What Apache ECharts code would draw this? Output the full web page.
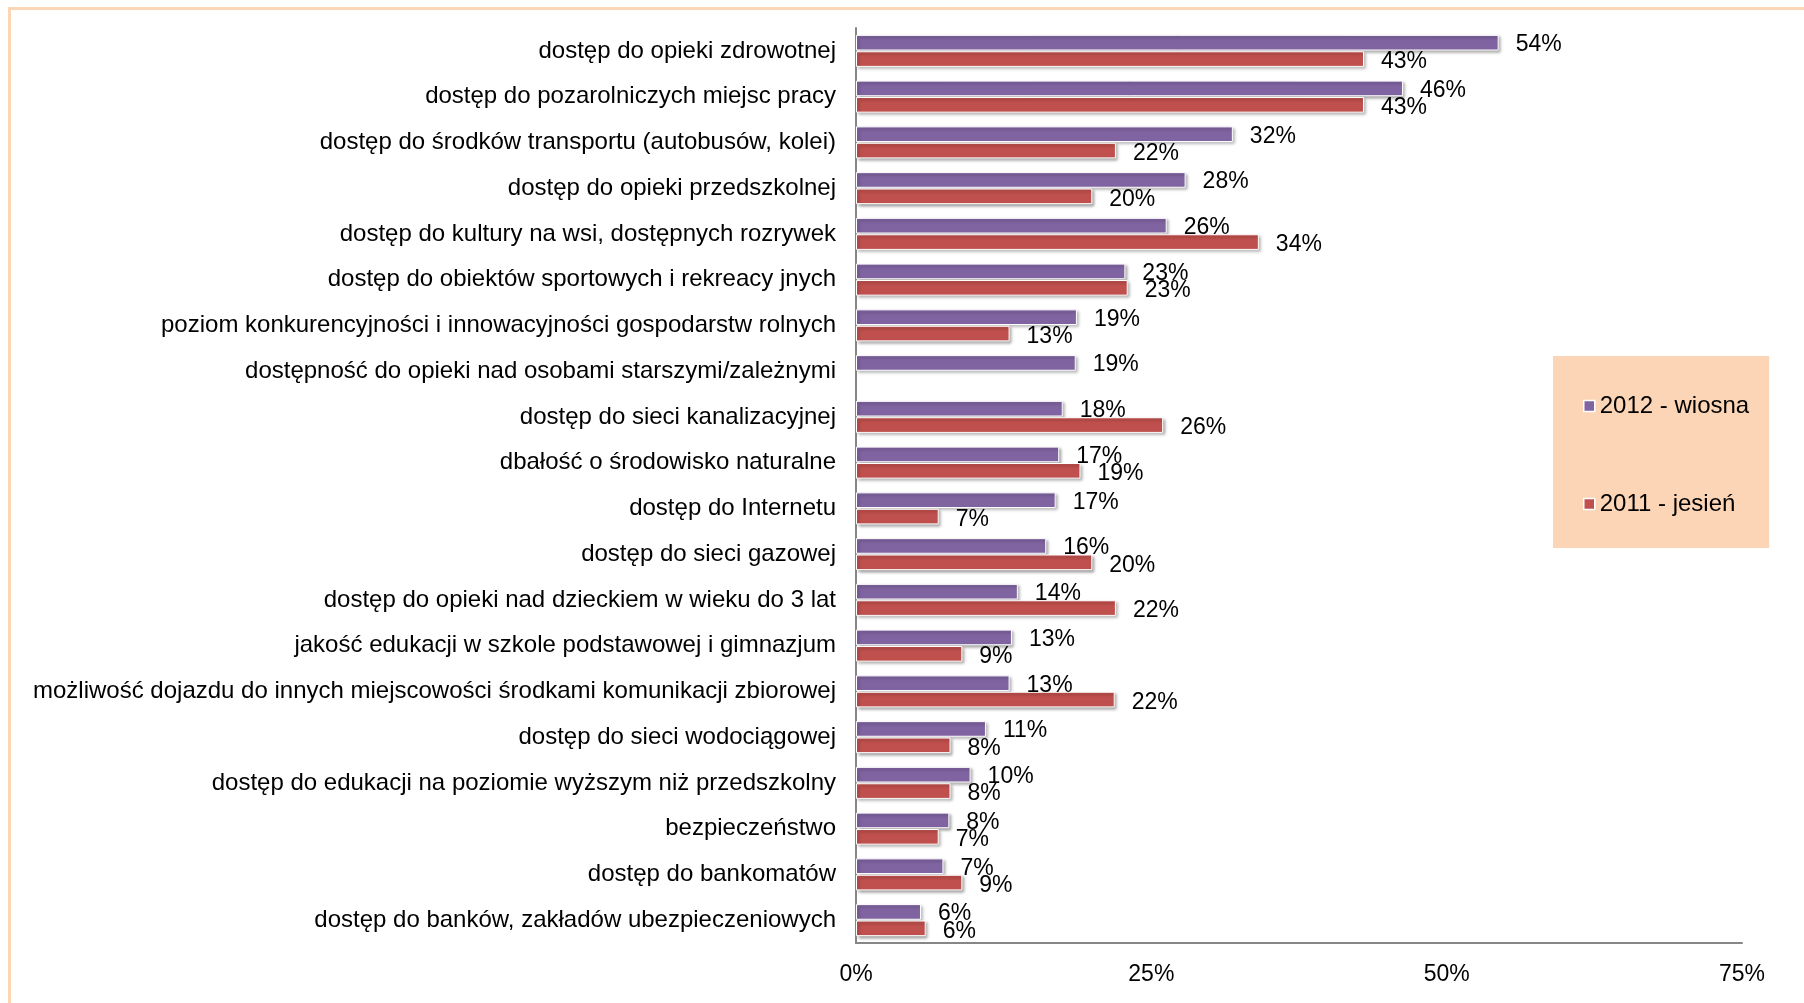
<!DOCTYPE html>
<html>
<head>
<meta charset="utf-8">
<script src="https://cdn.jsdelivr.net/npm/echarts@6/dist/echarts.min.js"></script>
<style>
  html, body { margin: 0; padding: 0; background: #fff; }
  #frame {
    position: absolute; left: 8px; top: 7px; width: 1900px; height: 1100px;
    border-left: 3px solid #FCD5B4; border-top: 3px solid #FCD5B4;
  }
  #view { position: absolute; left: 0; top: 0; width: 1804px; height: 1003px; }
</style>
</head>
<body>
<div id="frame"></div>
<div id="view"></div>
<script>
var categories = [
    "dostęp do opieki zdrowotnej",
    "dostęp do pozarolniczych miejsc pracy",
    "dostęp do środków transportu (autobusów, kolei)",
    "dostęp do opieki przedszkolnej",
    "dostęp do kultury na wsi, dostępnych rozrywek",
    "dostęp do obiektów sportowych i rekreacy jnych",
    "poziom konkurencyjności i innowacyjności gospodarstw rolnych",
    "dostępność do opieki nad osobami starszymi/zależnymi",
    "dostęp do sieci kanalizacyjnej",
    "dbałość o środowisko naturalne",
    "dostęp do Internetu",
    "dostęp do sieci gazowej",
    "dostęp do opieki nad dzieckiem w wieku do 3 lat",
    "jakość edukacji w szkole podstawowej i gimnazjum",
    "możliwość dojazdu do innych miejscowości środkami komunikacji zbiorowej",
    "dostęp do sieci wodociągowej",
    "dostęp do edukacji na poziomie wyższym niż przedszkolny",
    "bezpieczeństwo",
    "dostęp do bankomatów",
    "dostęp do banków, zakładów ubezpieczeniowych"
];
var spring2012 = [54.4, 46.3, 31.9, 27.9, 26.3, 22.8, 18.7, 18.6, 17.5, 17.2, 16.9, 16.1, 13.7, 13.2, 13.0, 11.0, 9.7, 7.9, 7.4, 5.5];
var autumn2011 = [43.0, 43.0, 22.0, 20.0, 34.1, 23.0, 13.0, null, 26.0, 19.0, 7.0, 20.0, 22.0, 9.0, 21.9, 8.0, 8.0, 7.0, 9.0, 5.9];
var xTicks = [0, 25, 50, 75];

var font = "'Liberation Sans', Arial, sans-serif";

function barLabel(offsetY) {
    return {
        show: true,
        position: 'right',
        distance: 17,
        offset: [0, offsetY],
        color: '#000',
        fontSize: 23,
        fontFamily: font,
        formatter: function (p) { return Math.round(p.value) + '%'; }
    };
}

var option = {
    animation: false,
    textStyle: { fontFamily: font },
    legend: {
        data: ["2012 - wiosna", "2011 - jesień"],
        orient: 'vertical',
        left: 1553,
        top: 356,
        backgroundColor: '#FBD5B5',
        padding: [38, 20, 32, 30],
        itemGap: 74,
        itemWidth: 11,
        itemHeight: 11,
        icon: 'rect',
        itemStyle: { borderColor: '#fff', borderWidth: 1.5, shadowBlur: 0, shadowOffsetX: 0, shadowOffsetY: 0 },
        textStyle: { fontSize: 24, color: '#000', fontFamily: font }
    },
    grid: {
        left: 856,
        right: 62,
        top: 28,
        bottom: 60
    },
    xAxis: {
        type: 'value',
        min: xTicks[0],
        max: xTicks[xTicks.length - 1],
        interval: 25,
        axisLine: { show: true, lineStyle: { color: '#868686', width: 2 } },
        axisTick: { show: false },
        splitLine: { show: false },
        axisLabel: {
            margin: 20,
            color: '#000',
            fontSize: 23,
            fontFamily: font,
            formatter: '{value}%'
        }
    },
    yAxis: {
        type: 'category',
        inverse: true,
        data: categories,
        axisLine: { show: true, lineStyle: { color: '#868686', width: 2 } },
        axisTick: { show: false },
        axisLabel: {
            margin: 20,
            color: '#000',
            fontSize: 24,
            fontFamily: font
        }
    },
    series: [
        {
            name: "2012 - wiosna",
            type: 'bar',
            data: spring2012,
            barCategoryGap: '30%',
            barGap: '5%',
            itemStyle: {
                color: '#8064A2',
                borderColor: '#fff',
                borderWidth: 1,
                shadowColor: 'rgba(0,0,0,0.35)',
                shadowBlur: 3,
                shadowOffsetX: 2,
                shadowOffsetY: 2
            },
            label: barLabel(2)
        },
        {
            name: "2011 - jesień",
            type: 'bar',
            data: autumn2011,
            barCategoryGap: '30%',
            barGap: '5%',
            itemStyle: {
                color: '#C0504D',
                borderColor: '#fff',
                borderWidth: 1,
                shadowColor: 'rgba(0,0,0,0.35)',
                shadowBlur: 3,
                shadowOffsetX: 2,
                shadowOffsetY: 2
            },
            label: barLabel(3)
        }
    ]
};

echarts.init(document.getElementById("view")).setOption(option);
</script>
</body>
</html>
